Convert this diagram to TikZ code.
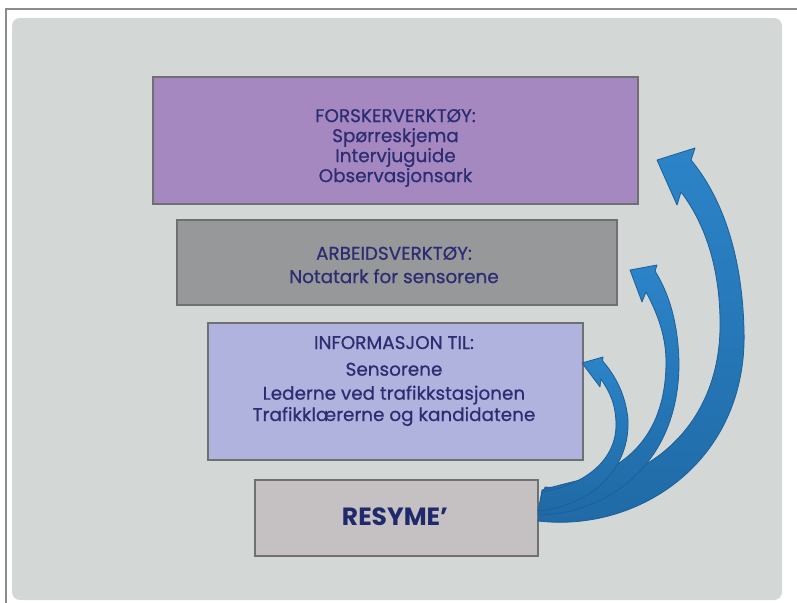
\documentclass[tikz,border=0pt]{standalone}
\usepackage{fontspec}
\setmainfont{Poppins}
\newfontfamily\boxfont{Poppins}[FakeBold=0.6]
\definecolor{framegray}{HTML}{8C8C8C}
\definecolor{panel}{HTML}{D3D8D7}
\definecolor{boxedge}{HTML}{6E7072}
\definecolor{violetbox}{HTML}{A688C0}
\definecolor{slatebox}{HTML}{96989A}
\definecolor{lavbox}{HTML}{B0B3DD}
\definecolor{resbox}{HTML}{C5C0C2}
\definecolor{navy}{HTML}{2C2C72}
\definecolor{deepnavy}{HTML}{1E2A6C}
\definecolor{arrowtop}{HTML}{2C84C8}
\definecolor{arrowbottom}{HTML}{1F6AA6}
\definecolor{arrowedge}{HTML}{1D5F99}
\tikzset{
  panelbox/.style={draw=boxedge, line width=0.8pt, inner sep=0pt},
  boxtext/.style={text=navy, align=center, inner sep=0pt,
    font=\boxfont\fontsize{13.8}{15}\selectfont},
  blockarrow/.style={top color=arrowtop, bottom color=arrowbottom, draw=arrowedge,
    line width=0.6pt, line join=round}
}
\begin{document}
\begin{tikzpicture}[x=0.75pt,y=-0.75pt]
\useasboundingbox (0,0) rectangle (797,603);
\fill[white] (0,0) rectangle (797,603);
% slide frame and background panel
\draw[framegray, line width=1.1pt] (6,603) -- (6,9) -- (797,9);
\fill[panel, rounded corners=6pt] (12,18) rectangle (782,600);

% boxes
\node[panelbox, fill=violetbox, minimum width=363.75pt, minimum height=95.25pt] (forsker) at (395.5,140.5) {};
\node[panelbox, fill=slatebox, minimum width=330pt, minimum height=63.75pt] (arbeid) at (397,262.5) {};
\node[panelbox, fill=lavbox, minimum width=281.25pt, minimum height=102.75pt] (info) at (395.5,391.5) {};
\node[panelbox, fill=resbox, minimum width=212.25pt, minimum height=57pt] (resyme) at (396.5,518) {};

% texts
\node[boxtext] (forskertxt) at (395.5,148) {FORSKERVERKTØY:\\Spørreskjema\\Intervjuguide\\Observasjonsark};
\node[boxtext, font=\boxfont\fontsize{13.8}{17.5}\selectfont] (arbeidtxt) at (394,265) {ARBEIDSVERKTØY:\\Notatark for sensorene};
\node[boxtext, font=\boxfont\fontsize{13.8}{16}\selectfont] (infotxt) at (394,381) {INFORMASJON TIL:\\[4pt]Sensorene\\[2pt]Lederne ved trafikkstasjonen\\Trafikklærerne og kandidatene};
\node[text=deepnavy, inner sep=0pt, font=\fontsize{18.7}{20}\selectfont\bfseries] (resymetxt) at (395,517) {RESYME’};

% curved block arrows from the summary box up to each box
\shadedraw[blockarrow]
  (538,521) .. controls (640,533) and (748,460) .. (744,330)
  .. controls (742,250) and (720,195) .. (691,160)
  -- (695,148) -- (657,160) -- (677,205) -- (681,192)
  .. controls (710,230) and (721,280) .. (720,330)
  .. controls (718,410) and (670,462) .. (610,480)
  .. controls (580,488) and (555,488) .. (545,487) -- cycle;
\shadedraw[blockarrow]
  (538,515) .. controls (600,515) and (679,470) .. (679,363)
  .. controls (678,320) and (668,292) .. (655,271)
  -- (657,265) -- (630,270) -- (642,302) -- (646,292)
  .. controls (660,318) and (666,340) .. (666,362)
  .. controls (666,440) and (620,470) .. (580,480)
  .. controls (560,485) and (548,488) .. (542,490) -- cycle;
\shadedraw[blockarrow]
  (538,511) .. controls (590,506) and (630,470) .. (628,420)
  .. controls (626,395) and (615,375) .. (602.6,361)
  -- (603,357) -- (582,363) -- (600,387) -- (600.8,379)
  .. controls (610,392) and (616,405) .. (616,425)
  .. controls (616,460) and (585,485) .. (542,492) -- cycle;
\end{tikzpicture}
\end{document}
